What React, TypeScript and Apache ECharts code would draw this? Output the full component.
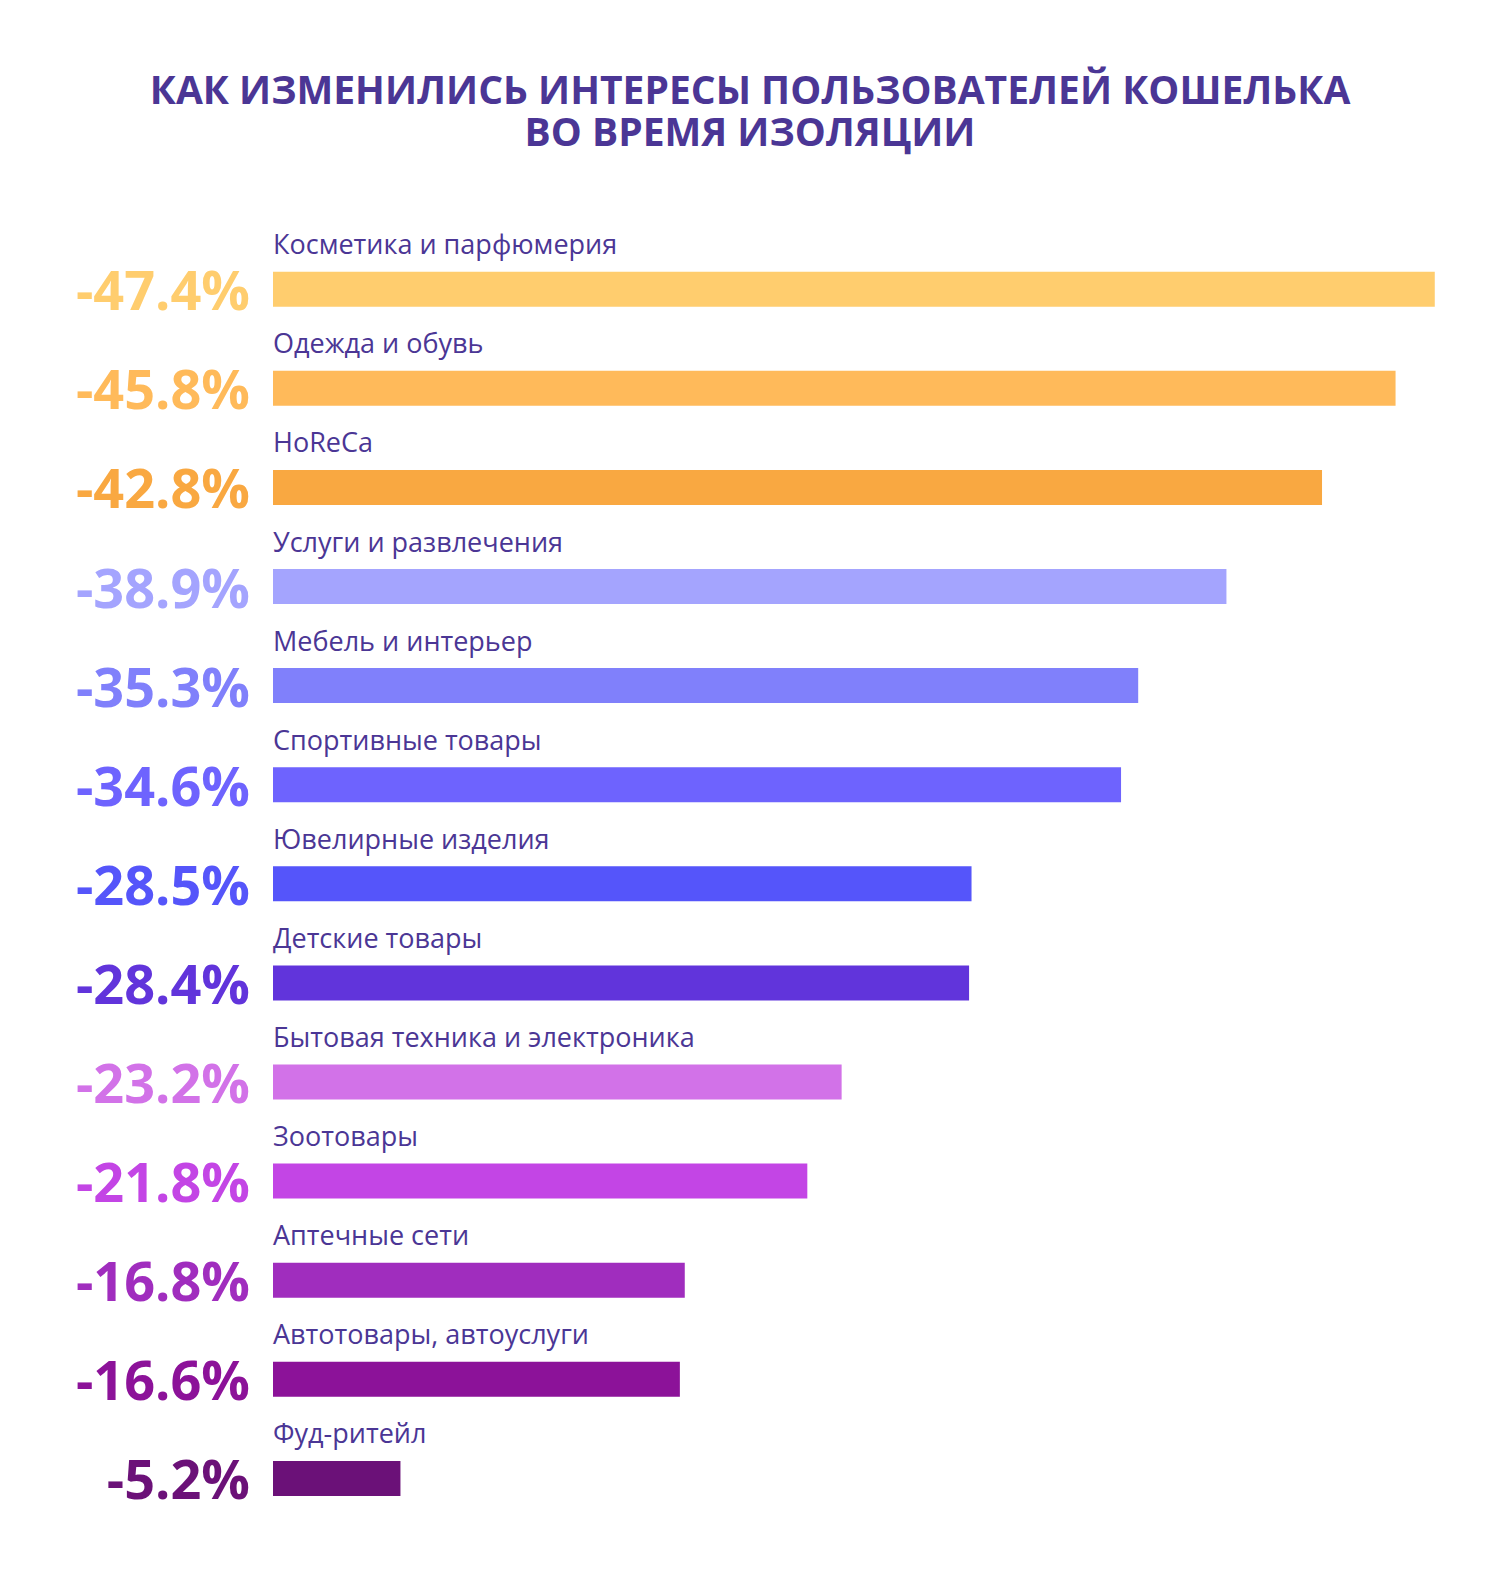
import React, { useEffect, useRef } from "react";
import * as echarts from "echarts";

const titleLines = [
  "КАК ИЗМЕНИЛИСЬ ИНТЕРЕСЫ ПОЛЬЗОВАТЕЛЕЙ КОШЕЛЬКА",
  "ВО ВРЕМЯ ИЗОЛЯЦИИ",
];

const categories = [
  "Косметика и парфюмерия",
  "Одежда и обувь",
  "HoReCa",
  "Услуги и развлечения",
  "Мебель и интерьер",
  "Спортивные товары",
  "Ювелирные изделия",
  "Детские товары",
  "Бытовая техника и электроника",
  "Зоотовары",
  "Аптечные сети",
  "Автотовары, автоуслуги",
  "Фуд-ритейл",
];

const values = [47.4, 45.8, 42.8, 38.9, 35.3, 34.6, 28.5, 28.4, 23.2, 21.8, 16.8, 16.6, 5.2];

const colors = [
  "#FFCD6E",
  "#FFBA5A",
  "#F9A841",
  "#A4A4FE",
  "#8080FB",
  "#6E63FE",
  "#5555FA",
  "#6134DB",
  "#D272E8",
  "#C345E5",
  "#A02DBE",
  "#8C1299",
  "#6B1178",
];

const TEXT_COLOR = "#4B3695";

export default function App() {
  const ref = useRef<HTMLDivElement>(null);

  useEffect(() => {
    document.body.style.margin = "0";
    if (!ref.current) return;
    const chart = echarts.init(ref.current, null, { renderer: "svg" });

    const rich: Record<string, any> = {};
    colors.forEach((c, i) => {
      rich["c" + i] = {
        color: c,
        fontSize: 54,
        fontWeight: "bold",
        fontFamily: "'Open Sans', sans-serif",
      };
    });

    const titleStyle = {
      color: TEXT_COLOR,
      fontSize: 39,
      fontWeight: "bold",
      fontFamily: "'Open Sans', sans-serif",
      lineHeight: 40,
    };

    chart.setOption({
      animation: false,
      backgroundColor: "#ffffff",
      title: [
        { text: titleLines[0], left: "center", top: 63, textStyle: titleStyle },
        { text: titleLines[1], left: "center", top: 105, textStyle: titleStyle },
      ],
      grid: {
        left: 273,
        width: 1225.5,
        top: 239.65,
        height: 1288.3,
        containLabel: false,
      },
      xAxis: {
        type: "value",
        min: 0,
        max: 50,
        show: false,
      },
      yAxis: {
        type: "category",
        inverse: true,
        data: categories,
        axisLine: { show: false },
        axisTick: { show: false },
        splitLine: { show: false },
        axisLabel: {
          margin: 23,
          formatter: (_v: string, i: number) => `{c${i}|-${values[i].toFixed(1)}%}`,
          rich,
        },
      },
      series: [
        {
          type: "bar",
          barWidth: 35,
          data: values.map((v, i) => ({
            value: v,
            itemStyle: { color: colors[i] },
          })),
          label: {
            show: true,
            position: [0, -28],
            align: "left",
            verticalAlign: "middle",
            formatter: (p: any) => categories[p.dataIndex],
            color: TEXT_COLOR,
            fontSize: 27,
            fontWeight: 500,
            fontFamily: "'Open Sans', sans-serif",
          },
        },
      ],
    });

    return () => chart.dispose();
  }, []);

  return <div ref={ref} style={{ width: 1500, height: 1584 }} />;
}
